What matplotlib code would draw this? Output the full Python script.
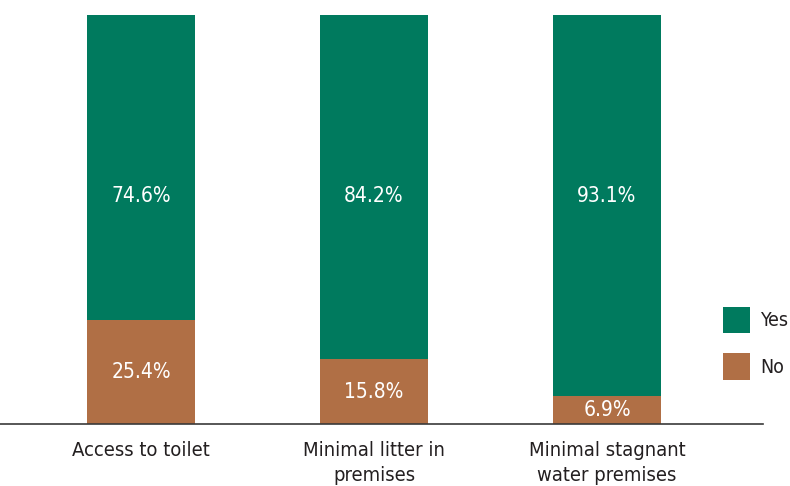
import numpy as np
import matplotlib.pyplot as plt

categories = ['Access to toilet', 'Minimal litter in\npremises', 'Minimal stagnant\nwater premises']
yes_vals = [74.6, 84.2, 93.1]
no_vals = [25.4, 15.8, 6.9]

green = '#007a5e'
brown = '#b06f45'
dark = '#231f20'

plt.rcParams['font.family'] = ['DejaVu Sans']
plt.rcParams['font.stretch'] = 'condensed'

fig = plt.figure(figsize=(7.9, 4.86), dpi=100)
ax = fig.add_axes([0, 0.1276, 0.966, 0.8415])

x = np.arange(len(categories))
w = 0.464
ax.bar(x, no_vals, w, color=brown, label='No')
ax.bar(x, yes_vals, w, bottom=no_vals, color=green, label='Yes')

# value labels: "No" centred in segment, "Yes" at a fixed height
for xi, n, y in zip(x, no_vals, yes_vals):
    ax.text(xi, n / 2, f'{n:.1f}%', ha='center', va='center', color='white', fontsize=15)
    ax.text(xi, 55.7, f'{y:.1f}%', ha='center', va='center', color='white', fontsize=15)

ax.set_xlim(-0.605, 2.67)
ax.set_ylim(0, 100)
ax.set_xticks(x)
ax.set_xticklabels(categories, fontsize=14.5, color=dark, linespacing=1.4)
ax.tick_params(axis='x', length=0, pad=12)
ax.set_yticks([])
for s in ['top', 'right', 'left']:
    ax.spines[s].set_visible(False)
ax.spines['bottom'].set_color('#3a3a3a')
ax.spines['bottom'].set_linewidth(1.2)

h, l = ax.get_legend_handles_labels()
leg = fig.legend(h[::-1], l[::-1], loc='center left', bbox_to_anchor=(0.915, 0.294),
                 frameon=False, fontsize=14, handlelength=1.4, handleheight=1.75,
                 labelspacing=1.0, handletextpad=0.5, borderaxespad=0, borderpad=0)
for t in leg.get_texts():
    t.set_color(dark)

fig.savefig('out.png', dpi=100)
